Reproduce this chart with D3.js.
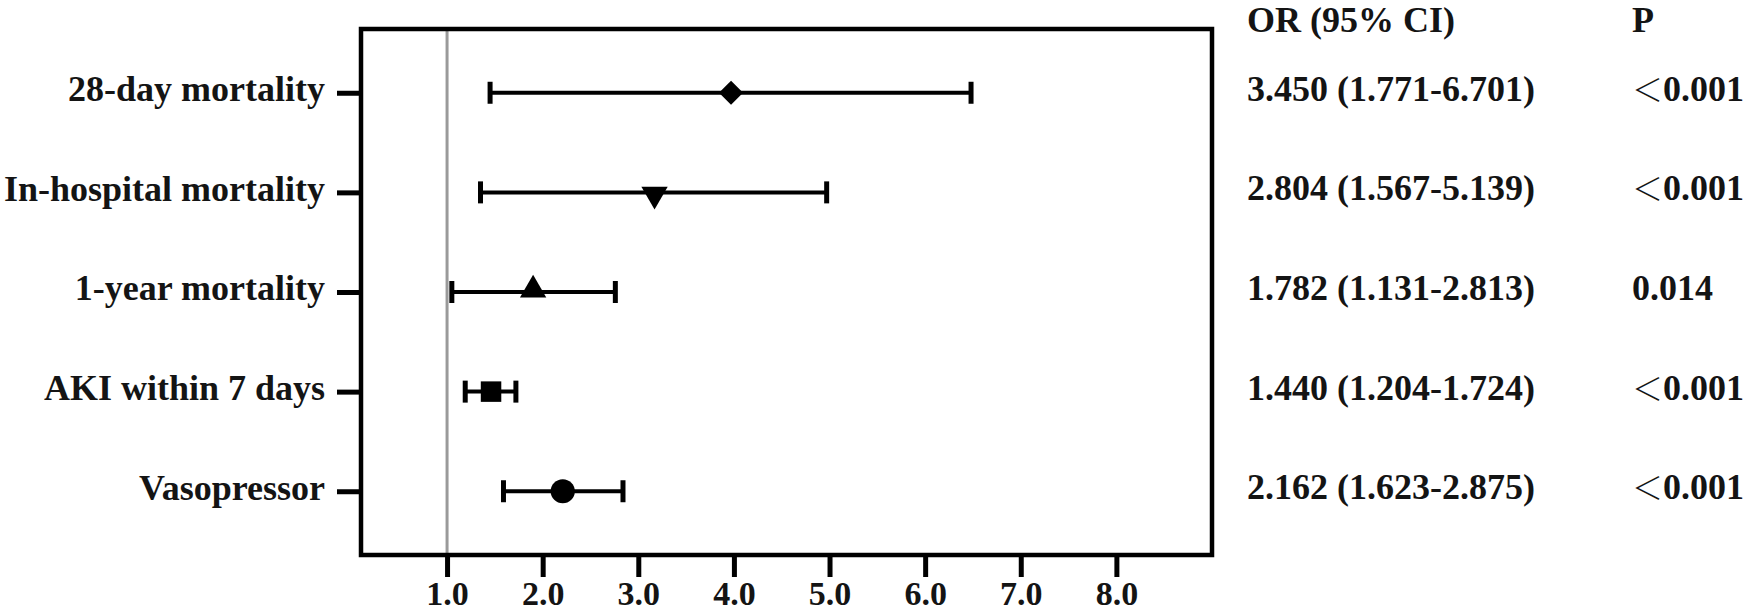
<!DOCTYPE html>
<html>
<head>
<meta charset="utf-8">
<script src="https://cdn.jsdelivr.net/npm/d3@7"></script>
<style>
  body { margin: 0; background: #fff; }
  text { font-family: "Liberation Serif", "Times New Roman", serif; font-weight: bold; fill: #141414; }
</style>
</head>
<body>
<svg id="chart" width="1750" height="611"></svg>
<script>
// outcomes, top to bottom
var outcomes = ["28-day mortality", "In-hospital mortality", "1-year mortality", "AKI within 7 days", "Vasopressor"];
// plotted point estimate and whiskers, as drawn
var orPoint = [3.97, 3.17, 1.90, 1.46, 2.21];
var ciLow   = [1.45, 1.35, 1.05, 1.19, 1.59];
var ciHigh  = [6.48, 4.97, 2.76, 1.72, 2.84];
var markers = ["diamond", "triangleDown", "triangleUp", "square", "circle"];
// table text on the right
var orText = ["3.450 (1.771-6.701)", "2.804 (1.567-5.139)", "1.782 (1.131-2.813)", "1.440 (1.204-1.724)", "2.162 (1.623-2.875)"];
var pText  = ["\uFF1C0.001", "\uFF1C0.001", "0.014", "\uFF1C0.001", "\uFF1C0.001"];
var xTicks = [1, 2, 3, 4, 5, 6, 7, 8];
var refValue = 1;

var svg = d3.select("#chart");
var plot = { left: 361, right: 1212, top: 29, bottom: 555 };

var x = d3.scaleLinear().domain([0.1, 9.0]).range([plot.left, plot.right]);
var y = d3.scalePoint().domain(outcomes).range([plot.top, plot.bottom]).padding(0.64);

// reference line at OR = 1
svg.append("line")
  .attr("x1", x(refValue)).attr("x2", x(refValue))
  .attr("y1", plot.top).attr("y2", plot.bottom)
  .attr("stroke", "#9a9a9a")
  .attr("stroke-width", 3);

// x axis
var xAxis = svg.append("g")
  .attr("transform", "translate(0," + plot.bottom + ")")
  .call(d3.axisBottom(x).tickValues(xTicks).tickFormat(d3.format(".1f")).tickSize(22).tickPadding(4));
xAxis.select(".domain").remove();
xAxis.selectAll("line").attr("stroke", "#000").attr("stroke-width", 5);
xAxis.selectAll("text").style("font-size", "34px").attr("fill", "#141414");

// y axis
var yAxis = svg.append("g")
  .attr("transform", "translate(" + plot.left + ",0)")
  .call(d3.axisLeft(y).tickSize(24).tickPadding(12));
yAxis.select(".domain").remove();
yAxis.selectAll("line").attr("stroke", "#000").attr("stroke-width", 5);
yAxis.selectAll("text").style("font-size", "36px").attr("dy", "0.22em").attr("fill", "#141414");

// frame
svg.append("rect")
  .attr("x", plot.left).attr("y", plot.top)
  .attr("width", plot.right - plot.left)
  .attr("height", plot.bottom - plot.top)
  .attr("fill", "none")
  .attr("stroke", "#000")
  .attr("stroke-width", 4.5);

var rows = outcomes.map(function(d, i) {
  return { name: d, or: orPoint[i], lo: ciLow[i], hi: ciHigh[i], marker: markers[i], orText: orText[i], p: pText[i] };
});

var g = svg.append("g");
var capH = 22;

// whiskers
g.selectAll(".ci")
  .data(rows).enter().append("line")
  .attr("x1", function(d) { return x(d.lo); })
  .attr("x2", function(d) { return x(d.hi); })
  .attr("y1", function(d) { return y(d.name); })
  .attr("y2", function(d) { return y(d.name); })
  .attr("stroke", "#000").attr("stroke-width", 4);

["lo", "hi"].forEach(function(k) {
  g.selectAll(".cap-" + k)
    .data(rows).enter().append("line")
    .attr("x1", function(d) { return x(d[k]); })
    .attr("x2", function(d) { return x(d[k]); })
    .attr("y1", function(d) { return y(d.name) - capH / 2; })
    .attr("y2", function(d) { return y(d.name) + capH / 2; })
    .attr("stroke", "#000").attr("stroke-width", 5);
});

// point markers
function markerPath(m) {
  if (m == "diamond") return d3.symbol().type(d3.symbolSquare).size(290)();
  if (m == "triangleDown" || m == "triangleUp") return d3.symbol().type(d3.symbolTriangle).size(300)();
  if (m == "square") return d3.symbol().type(d3.symbolSquare).size(420)();
  return d3.symbol().type(d3.symbolCircle).size(460)();
}
function markerRotate(m) {
  if (m == "diamond") return 45;
  if (m == "triangleDown") return 180;
  return 0;
}
g.selectAll(".pt")
  .data(rows).enter().append("path")
  .attr("d", function(d) { return markerPath(d.marker); })
  .attr("transform", function(d) {
    var dy = d.marker == "triangleDown" ? 2 : (d.marker == "triangleUp" ? -2 : 0);
    return "translate(" + x(d.or) + "," + (y(d.name) + dy) + ") rotate(" + markerRotate(d.marker) + ")";
  })
  .attr("fill", "#000");

// table on the right
var colOR = 1247, colP = 1632;
svg.append("text").attr("x", colOR).attr("y", 32).style("font-size", "36px").text("OR (95% CI)");
svg.append("text").attr("x", colP).attr("y", 32).style("font-size", "36px").text("P");

svg.selectAll(".ortxt")
  .data(rows).enter().append("text")
  .attr("x", colOR)
  .attr("y", function(d) { return y(d.name) + 8; })
  .style("font-size", "36px")
  .text(function(d) { return d.orText; });

var pCells = svg.selectAll(".ptxt")
  .data(rows).enter().append("text")
  .attr("x", colP)
  .attr("y", function(d) { return y(d.name) + 8; })
  .style("font-size", "36px");
pCells.each(function(d) {
  var t = d3.select(this);
  if (d.p.charAt(0) == "\uFF1C") {
    t.append("tspan")
      .style("font-family", "'Noto Sans CJK SC', 'Noto Sans CJK JP', sans-serif")
      .style("font-weight", "300")
      .style("font-size", "31px")
      .text("\uFF1C");
    t.append("tspan").text(d.p.slice(1));
  } else {
    t.text(d.p);
  }
});
</script>
</body>
</html>
